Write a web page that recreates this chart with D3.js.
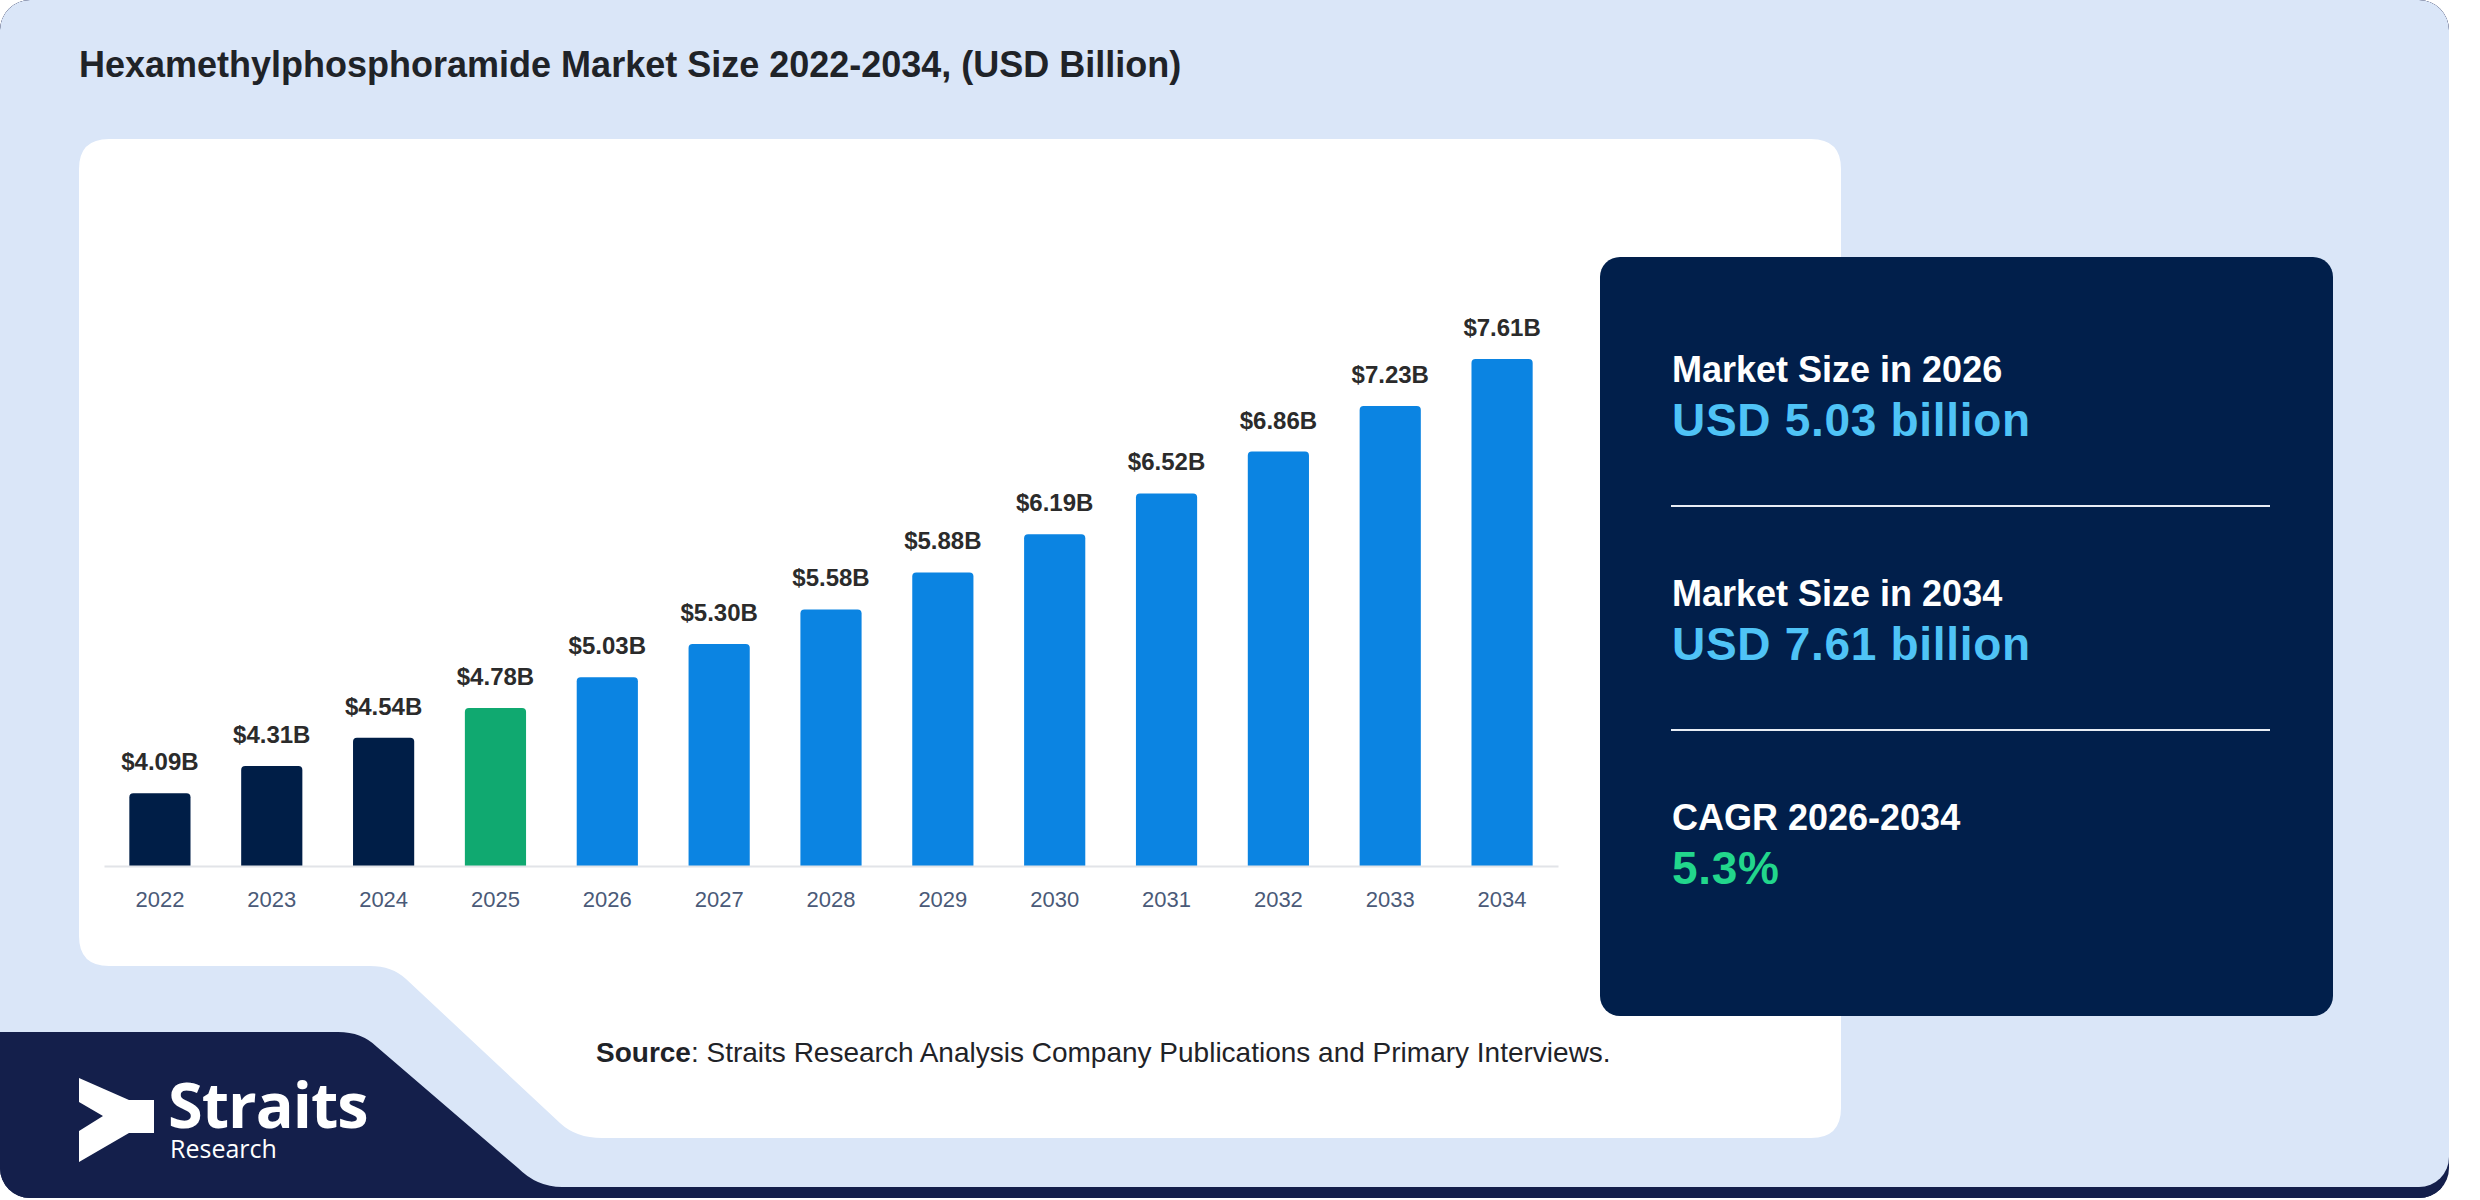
<!DOCTYPE html>
<html>
<head>
<meta charset="utf-8">
<script src="https://cdn.jsdelivr.net/npm/d3@7"></script>
<style>
  html, body { margin: 0; padding: 0; background: #ffffff; }
  svg { display: block; font-family: "Liberation Sans", Arial, sans-serif; }
</style>
</head>
<body>
<svg id="chart" width="2480" height="1200"></svg>
<script>
// Data
const years = ['2022','2023','2024','2025','2026','2027','2028','2029','2030','2031','2032','2033','2034'];
const values = [4.09, 4.31, 4.54, 4.78, 5.03, 5.30, 5.58, 5.88, 6.19, 6.52, 6.86, 7.23, 7.61];
const phases = ['hist','hist','hist','base','fc','fc','fc','fc','fc','fc','fc','fc','fc'];

const statHeads = ['Market Size in 2026', 'Market Size in 2034', 'CAGR 2026-2034'];
const statValues = ['USD 5.03 billion', 'USD 7.61 billion', '5.3%'];

const title = 'Hexamethylphosphoramide Market Size 2022-2034, (USD Billion)';

// Styles
const phaseColor = { hist: '#001e47', base: '#10a970', fc: '#0b84e2' };
const statColor = ['#4fc3f6', '#4fc3f6', '#22d68c'];

const svg = d3.select('#chart');

// Outer card
svg.append('clipPath').attr('id', 'card')
  .append('rect').attr('x', 0).attr('y', 0).attr('width', 2449).attr('height', 1198).attr('rx', 30);

const card = svg.append('g').attr('clip-path', 'url(#card)');
card.append('rect').attr('width', 2449).attr('height', 1198).attr('fill', '#141f4b');
card.append('rect').attr('width', 2449).attr('height', 1187).attr('rx', 30).attr('fill', '#dae6f8');

// Logo box (bottom left)
card.append('path')
  .attr('d', 'M0,1032 H338 Q362,1032 377,1047 L518,1168 Q537,1187 562,1187 H2449 V1200 H0 Z')
  .attr('fill', '#141f4b');

// White chart panel with the cut corner
svg.append('path')
  .attr('d', 'M109,139 H1811 Q1841,139 1841,169 V1108 Q1841,1138 1811,1138 H602 Q576,1138 560,1123 L406,979 Q392,966 370,966 H109 Q79,966 79,936 V169 Q79,139 109,139 Z')
  .attr('fill', '#ffffff');

// Title
svg.append('text')
  .attr('x', 79).attr('y', 77)
  .attr('font-size', 36).attr('font-weight', 700).attr('fill', '#1f2328')
  .text(title);

// Scales
const x = d3.scaleBand()
  .domain(years)
  .range([104, 1558])
  .paddingInner(0.453)
  .paddingOuter(0.2265);

const y = d3.scaleLinear()
  .domain([3.5, d3.max(values)])
  .range([866, 359]);

// Bars, top corners rounded
const r = 4;
const barPath = (d, i) => {
  const x0 = x(years[i]), w = x.bandwidth(), y0 = y(d), yb = y(3.5);
  return `M${x0},${yb} V${y0 + r} Q${x0},${y0} ${x0 + r},${y0} H${x0 + w - r} Q${x0 + w},${y0} ${x0 + w},${y0 + r} V${yb} Z`;
};

svg.append('g')
  .selectAll('path')
  .data(values)
  .join('path')
  .attr('d', barPath)
  .attr('fill', (d, i) => phaseColor[phases[i]]);

// Axis
const axis = svg.append('g')
  .attr('transform', `translate(0,${y(3.5)})`)
  .call(d3.axisBottom(x).tickSize(0).tickSizeOuter(0).tickPadding(25));
axis.select('.domain').attr('stroke', '#e2e4e8').attr('stroke-width', 2);
axis.selectAll('text')
  .attr('font-family', '"Liberation Sans", Arial, sans-serif')
  .attr('font-size', 22).attr('fill', '#4a5a78');

// Value labels
svg.append('g')
  .selectAll('text')
  .data(values)
  .join('text')
  .attr('x', (d, i) => x(years[i]) + x.bandwidth() / 2)
  .attr('y', d => y(d) - 23)
  .attr('text-anchor', 'middle')
  .attr('font-size', 24).attr('font-weight', 700).attr('fill', '#2b2b2b')
  .text(d => '$' + d.toFixed(2) + 'B');

// Info panel
svg.append('rect')
  .attr('x', 1600).attr('y', 257).attr('width', 733).attr('height', 759).attr('rx', 20)
  .attr('fill', '#011f4b');

const info = svg.append('g');
statHeads.forEach((h, i) => {
  const top = 382 + i * 224;
  info.append('text')
    .attr('x', 1672).attr('y', top)
    .attr('font-size', 36).attr('font-weight', 700).attr('fill', '#ffffff')
    .text(h);
  info.append('text')
    .attr('x', 1672).attr('y', top + 54)
    .attr('font-size', 46).attr('font-weight', 700).attr('letter-spacing', 0.7)
    .attr('fill', statColor[i])
    .text(statValues[i]);
  if (i < statHeads.length - 1) {
    info.append('line')
      .attr('x1', 1671).attr('x2', 2270)
      .attr('y1', top + 124).attr('y2', top + 124)
      .attr('stroke', '#e8edf5').attr('stroke-width', 2);
  }
});

// Source note
const src = svg.append('text')
  .attr('x', 596).attr('y', 1062)
  .attr('font-size', 28).attr('fill', '#1f2328');
src.append('tspan').attr('font-weight', 700).text('Source');
src.append('tspan').text(': Straits Research Analysis Company Publications and Primary Interviews.');

// Logo
svg.append('path')
  .attr('d', 'M79,1078 L129,1100 H154 V1133 H129 L79,1162 V1131 L103,1116 L79,1102 Z')
  .attr('fill', '#ffffff');
svg.append('text')
  .attr('x', 168).attr('y', 1128)
  .attr('font-family', '"Open Sans", sans-serif')
  .attr('font-size', 63).attr('font-weight', 700).attr('fill', '#ffffff')
  .attr('letter-spacing', -1)
  .text('Straits');
svg.append('text')
  .attr('x', 170).attr('y', 1158)
  .attr('font-family', '"Open Sans", sans-serif')
  .attr('font-size', 25).attr('fill', '#ffffff')
  .text('Research');
</script>
</body>
</html>
